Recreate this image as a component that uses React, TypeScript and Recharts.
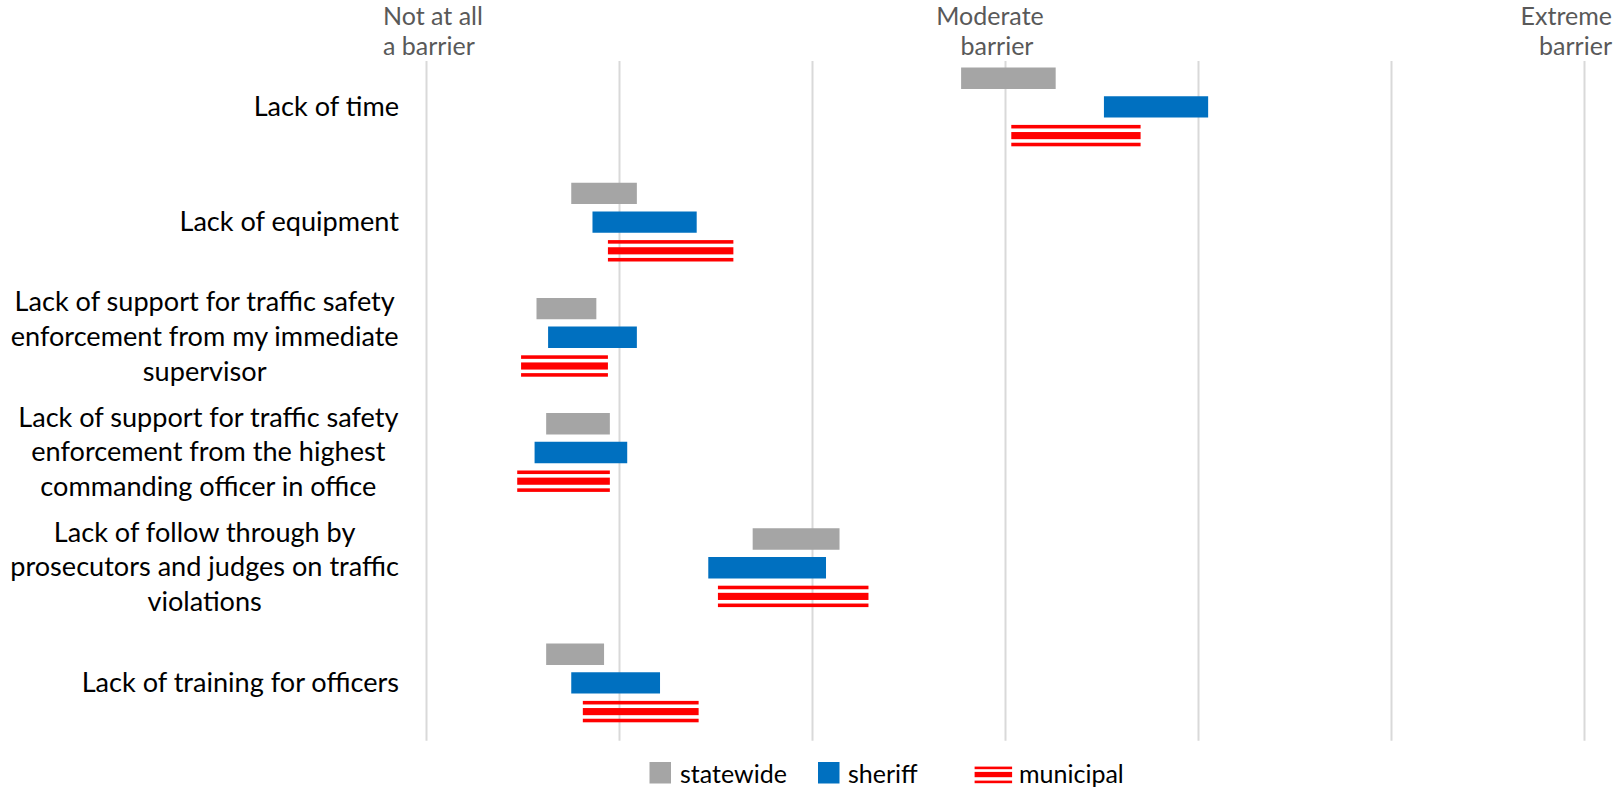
import React from 'react';
import { BarChart, Bar, XAxis, YAxis, CartesianGrid, Legend } from 'recharts';

// Barrier items, with the line breaks used for the axis labels
const categoryLabels: string[][] = [
  ['Lack of time'],
  ['Lack of equipment'],
  ['Lack of support for traffic safety', 'enforcement from my immediate', 'supervisor'],
  ['Lack of support for traffic safety', 'enforcement from the highest', 'commanding officer in office'],
  ['Lack of follow through by', 'prosecutors and judges on traffic', 'violations'],
  ['Lack of training for officers'],
];
const categories = categoryLabels.map((lines) => lines.join(' '));

// Rating scale (1 = not at all a barrier ... 7 = extreme barrier)
const scaleTicks = [1, 2, 3, 4, 5, 6, 7];
const scaleLabelValues = [1, 4, 7];
const scaleLabelLines: string[][] = [
  ['Not at all', 'a barrier'],
  ['Moderate', 'barrier'],
  ['Extreme', 'barrier'],
];

// Interval (low / high) for each agency group
const statewideLow = [3.77, 1.75, 1.57, 1.62, 2.69, 1.62];
const statewideHigh = [4.26, 2.09, 1.88, 1.95, 3.14, 1.92];
const sheriffLow = [4.51, 1.86, 1.63, 1.56, 2.46, 1.75];
const sheriffHigh = [5.05, 2.40, 2.09, 2.04, 3.07, 2.21];
const municipalLow = [4.03, 1.94, 1.49, 1.47, 2.51, 1.81];
const municipalHigh = [4.70, 2.59, 1.94, 1.95, 3.29, 2.41];

const seriesNames = ['statewide', 'sheriff', 'municipal'];

const data = categories.map((name, i) => ({
  name,
  statewide: [statewideLow[i], statewideHigh[i]],
  sheriff: [sheriffLow[i], sheriffHigh[i]],
  municipal: [municipalLow[i], municipalHigh[i]],
}));

const FONT = 'Lato, "Open Sans", sans-serif';
const CAT_SIZE = 27.1;
const CAT_LINE = 34.7;
const SCALE_SIZE = 25;
const LEGEND_SIZE = 25;
const GRAY = '#A5A5A5';
const BLUE = '#0070C0';
const RED = '#FF0000';

let measureCtx: CanvasRenderingContext2D | null = null;
function textWidth(text: string, size: number): number {
  if (!measureCtx) {
    const c = document.createElement('canvas');
    measureCtx = c.getContext('2d');
  }
  if (!measureCtx) return text.length * size * 0.5;
  measureCtx.font = `${size}px Lato`;
  return measureCtx.measureText(text).width;
}

function CategoryTick(props: any) {
  const { x, y, index } = props;
  const lines = categoryLabels[index] || [String(props.payload?.value ?? '')];
  const n = lines.length;
  const maxW = Math.max(...lines.map((l) => textWidth(l, CAT_SIZE)));
  const cx = n > 1 ? x - maxW / 2 : x;
  return (
    <g>
      {lines.map((line, i) => (
        <text
          key={i}
          x={cx}
          y={y + 8.5 + (i - (n - 1) / 2) * CAT_LINE}
          textAnchor={n > 1 ? 'middle' : 'end'}
          fontFamily={FONT}
          fontSize={CAT_SIZE}
          fill="#000000"
        >
          {line}
        </text>
      ))}
    </g>
  );
}

function ScaleTick(props: any) {
  const { x, y, payload } = props;
  const k = scaleLabelValues.indexOf(payload.value);
  if (k < 0) return <g />;
  const lines = scaleLabelLines[k];
  // horizontal placement of each line for the three labelled points
  const place = [
    [{ dx: -43.5, anchor: 'start' }, { dx: -43.5, anchor: 'start' }],
    [{ dx: -15.5, anchor: 'middle' }, { dx: -8.5, anchor: 'middle' }],
    [{ dx: 27.5, anchor: 'end' }, { dx: 27.5, anchor: 'end' }],
  ][k];
  const baselines = [-24.8, 5.2];
  return (
    <g>
      {lines.map((line, i) => (
        <text
          key={i}
          x={x + place[i].dx}
          y={y + baselines[i]}
          textAnchor={place[i].anchor as any}
          fontFamily={FONT}
          fontSize={SCALE_SIZE}
          fill="#595959"
        >
          {line}
        </text>
      ))}
    </g>
  );
}

function StripedBar(props: any) {
  const { x, y, width, height } = props;
  if (width == null || height == null) return <g />;
  const u = height / 6;
  return (
    <g>
      <rect x={x} y={y} width={width} height={u} fill={RED} />
      <rect x={x} y={y + 2 * u} width={width} height={2 * u} fill={RED} />
      <rect x={x} y={y + 5 * u} width={width} height={u} fill={RED} />
    </g>
  );
}

function GridLine(props: any) {
  const { x1, x2, y1, y2, key } = props;
  return <line key={key} x1={x1} x2={x2} y1={y1 + 11.5} y2={y2} stroke="#D9D9D9" strokeWidth={2} />;
}

function LegendContent() {
  const top = 748;
  const ty = 782.7 - top;
  return (
    <svg width={1614} height={43} style={{ display: 'block' }}>
      <rect x={649.5} y={762 - top} width={21.5} height={21.5} fill={GRAY} />
      <text x={680} y={ty} fontFamily={FONT} fontSize={LEGEND_SIZE} fill="#000000">
        {seriesNames[0]}
      </text>
      <rect x={818} y={762 - top} width={21.5} height={21.5} fill={BLUE} />
      <text x={848} y={ty} fontFamily={FONT} fontSize={LEGEND_SIZE} fill="#000000">
        {seriesNames[1]}
      </text>
      <rect x={974.6} y={766.6 - top} width={37.5} height={2.6} fill={RED} />
      <rect x={974.6} y={771.9 - top} width={37.5} height={5.3} fill={RED} />
      <rect x={974.6} y={780.6 - top} width={37.5} height={2.6} fill={RED} />
      <text x={1019} y={ty} fontFamily={FONT} fontSize={LEGEND_SIZE} fill="#000000">
        {seriesNames[2]}
      </text>
    </svg>
  );
}

export default function App() {
  return (
    <div style={{ position: 'absolute', left: 0, top: 0, width: 1614, height: 791, background: '#ffffff' }}>
      <BarChart
        width={1614}
        height={791}
        data={data}
        layout="vertical"
        margin={{ top: 0, right: 29.5, bottom: 50.3, left: 0 }}
        barSize={21.4}
        barGap={7.3}
      >
        <CartesianGrid horizontal={false} vertical={GridLine} />
        <XAxis
          type="number"
          orientation="top"
          domain={[1, 7]}
          ticks={scaleTicks}
          interval={0}
          height={49.5}
          axisLine={false}
          tickLine={false}
          tickSize={0}
          tickMargin={0}
          tick={<ScaleTick />}
        />
        <YAxis
          type="category"
          dataKey="name"
          width={426.5}
          interval={0}
          axisLine={false}
          tickLine={false}
          tickSize={0}
          tickMargin={27.5}
          tick={<CategoryTick />}
        />
        <Bar dataKey="statewide" name={seriesNames[0]} fill={GRAY} isAnimationActive={false} />
        <Bar dataKey="sheriff" name={seriesNames[1]} fill={BLUE} isAnimationActive={false} />
        <Bar dataKey="municipal" name={seriesNames[2]} fill={RED} shape={StripedBar} isAnimationActive={false} />
        <Legend
          verticalAlign="middle"
          layout="horizontal"
          content={LegendContent}
          wrapperStyle={{ left: 0, top: 748, width: 1614, height: 43 }}
        />
      </BarChart>
    </div>
  );
}
